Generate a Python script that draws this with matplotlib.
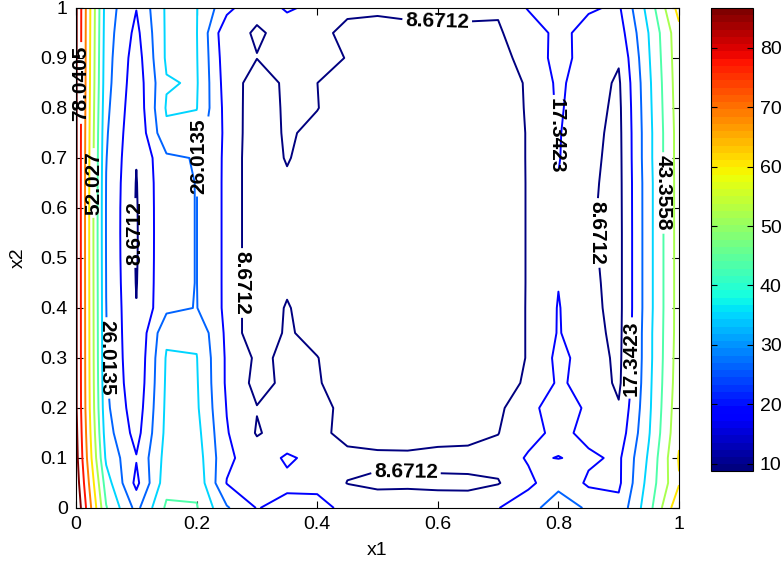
import matplotlib
matplotlib.use('Agg')
import matplotlib.pyplot as plt
import numpy as np
from matplotlib.cm import ScalarMappable
from matplotlib.colors import Normalize

plt.rcParams['font.family'] = ['Liberation Sans', 'DejaVu Sans']

# grid of the sampled field
x1 = [0.00, 0.05, 0.10, 0.15, 0.20, 0.25, 0.30, 0.35, 0.40, 0.45, 0.50,
      0.55, 0.60, 0.65, 0.70, 0.75, 0.80, 0.85, 0.90, 0.95, 1.00]
x2 = [0.00, 0.05, 0.10, 0.15, 0.20, 0.25, 0.30, 0.35, 0.40, 0.45, 0.50,
      0.55, 0.60, 0.65, 0.70, 0.75, 0.80, 0.85, 0.90, 0.95, 1.00]

# one column per x1 value, x2 running from 0 up to 1
z_cols = [
    [95, 92, 90, 89, 88, 88, 88, 88, 88, 88, 88, 88, 88, 88, 88, 88, 88, 88, 88, 88, 88],
    [44, 39, 33, 30, 28, 27, 26.5, 26.3, 26.1, 25.9, 25.7, 25.6, 25.6, 25.8, 26.3, 27, 28, 29, 29.5, 30, 30.5],
    [23.4, 15, 17.9, 14, 12, 10.5, 9.8, 9.3, 8.9, 8.3, 8.0, 7.9, 8.0, 8.3, 9.0, 10, 11, 12, 13, 15, 17.6],
    [45, 40, 38, 37, 36.5, 36, 35.5, 33, 24, 24, 24, 24, 24, 24, 24.5, 33, 35.5, 34, 36, 36, 36],
    [44, 41, 39, 37.5, 36, 35.5, 35, 33, 26.3, 26.15, 26.15, 26.15, 26.15, 26.15, 26.5, 31, 35, 35.5, 35.2, 35, 35],
    [27, 17, 19, 18, 17, 16, 16, 15.5, 15.5, 15.5, 15.5, 15.5, 15.5, 15.5, 15.5, 15, 14, 13, 12, 10.5, 20],
    [17, 13, 13, 8.0, 9.0, 6, 7.2, 2, 2, 2, 2, 2, 2, 2, 2, 3, 4, 5, 8.8, 8.15, 9.8],
    [20, 15.5, 18.5, 12, 11, 10.5, 10, 10, 9.5, 7, 4, 4, 4, 7, 9.5, 10, 10, 10, 10, 9.9, 19],
    [19, 16, 15, 11, 10, 9.5, 9, 5, 3, 2, 2, 2, 2, 2, 3, 6, 9, 8.7, 11, 10.5, 14],
    [16, 8.4, 11, 6, 7.5, 4, 2, 2, 2, 2, 2, 2, 2, 2, 2, 2, 3, 5, 8.4, 7, 10],
    [12, 7.5, 10, 5.8, 3, 2, 1.5, 1.5, 1.5, 1.5, 1.5, 1.5, 1.5, 1.5, 1.5, 1.5, 2, 2.5, 3, 5, 10.4],
    [12.5, 7.5, 10.2, 5, 2.5, 1.5, 1.5, 1.5, 1.5, 1.5, 1.5, 1.5, 1.5, 1.5, 1.5, 1.5, 2, 2.5, 3, 5, 12],
    [12, 7.3, 10.8, 6, 2.5, 1.5, 1.5, 1.5, 1.5, 1.5, 1.5, 1.5, 1.5, 1.5, 1.5, 1.5, 2, 2.5, 3, 5, 13],
    [12, 7.2, 11.3, 6, 2.5, 1.5, 1.5, 1.5, 1.5, 1.5, 1.5, 1.5, 1.5, 1.5, 1.5, 1.5, 2, 2.5, 3, 4.5, 13.6],
    [17, 8.2, 11, 8.5, 7, 5, 3, 3, 3, 2.5, 2.5, 2.5, 2.5, 2.5, 3, 3, 4, 5, 7, 8.0, 9.3],
    [24.7, 14.65, 18.5, 14, 14.7, 10, 9.3, 9.3, 9.3, 9.3, 9.3, 9.3, 9.3, 9.3, 9.3, 9.3, 9.5, 9.5, 10.5, 12, 18],
    [28, 25, 17.1, 20, 22, 18.5, 19.5, 17.9, 17.8, 17.1, 15.5, 15, 15, 17.0, 17.8, 18, 18.5, 19, 21, 20, 22],
    [25.5, 15.7, 19, 14.7, 15.9, 14.6, 14, 12, 11, 10.5, 10, 9.7, 9.7, 10, 10.5, 11, 12, 12.5, 13, 14, 18.4],
    [20, 15.7, 15.7, 12, 9.5, 7, 6.5, 6.2, 6, 6, 6, 6, 6.1, 6.2, 6.3, 6.5, 6.8, 7.5, 9.5, 13, 16],
    [40, 38, 36, 34, 33, 32.5, 32, 32, 31.5, 31.5, 31.5, 31.5, 31.5, 31.5, 32, 32, 32.5, 33, 34, 35, 38],
    [68, 60, 61.5, 59, 58, 57, 56.5, 56, 56, 56, 56, 56, 56, 56, 56, 56, 56.5, 57, 57.5, 58, 64],
]

levels = [8.6712, 17.3423, 26.0135, 34.6846, 43.3558, 52.027,
          60.6981, 69.3693, 78.0405, 86.7116]

# where the inline labels sit, and which way they read (None = follow line)
label_spots = [(0.011, 0.85), (0.027, 0.65), (0.051, 0.30), (0.100, 0.55),
               (0.214, 0.70), (0.259, 0.45), (0.599, 0.975), (0.547, 0.07),
               (0.800, 0.745), (0.862, 0.55), (0.968, 0.63), (0.919, 0.30)]
label_turn = [90, 90, 270, 90, 90, 270, None, None, 270, 270, 270, 90]

cbar_ticks = [10, 20, 30, 40, 50, 60, 70, 80]


def main():
    z = np.array(z_cols).T
    cmap = plt.get_cmap('jet', 64)
    norm = Normalize(levels[0], levels[-1])

    fig = plt.figure(figsize=(7.83, 5.65), dpi=100)
    ax = fig.add_axes([0.0971, 0.1009, 0.7701, 0.885])

    cs = ax.contour(x1, x2, z, levels=levels, cmap=cmap, norm=norm,
                    linewidths=1.4)
    texts = ax.clabel(cs, fmt='%g', fontsize=15, colors='k', inline=True,
                      inline_spacing=3, manual=label_spots)
    for t, turn in zip(texts, label_turn):
        t.set_fontweight('bold')
        t.set_clip_on(False)
        if turn is not None:
            t.set_rotation(turn)

    ax.set_xlim(0, 1)
    ax.set_ylim(0, 1)
    ax.set_xticks([0, 0.2, 0.4, 0.6, 0.8, 1])
    ax.set_xticklabels(['0', '0.2', '0.4', '0.6', '0.8', '1'])
    ax.set_yticks([0, 0.1, 0.2, 0.3, 0.4, 0.5, 0.6, 0.7, 0.8, 0.9, 1])
    ax.set_yticklabels(['0', '0.1', '0.2', '0.3', '0.4', '0.5', '0.6',
                        '0.7', '0.8', '0.9', '1'])
    ax.tick_params(direction='in', top=True, right=True, length=5,
                   labelsize=14, width=0.8, pad=6)
    ax.set_xlabel('x1', fontsize=14, labelpad=6)
    ax.set_ylabel('x2', fontsize=14, labelpad=10)
    for sp in ax.spines.values():
        sp.set_linewidth(0.8)

    cax = fig.add_axes([0.908, 0.1655, 0.0536, 0.8204])
    sm = ScalarMappable(norm=norm, cmap=cmap)
    cb = fig.colorbar(sm, cax=cax, ticks=cbar_ticks)
    cb.ax.tick_params(direction='in', left=True, right=True, length=4,
                      labelsize=14, width=0.8, pad=5)
    cb.outline.set_linewidth(0.8)

    fig.savefig('out.png', dpi=100)


if __name__ == '__main__':
    main()
